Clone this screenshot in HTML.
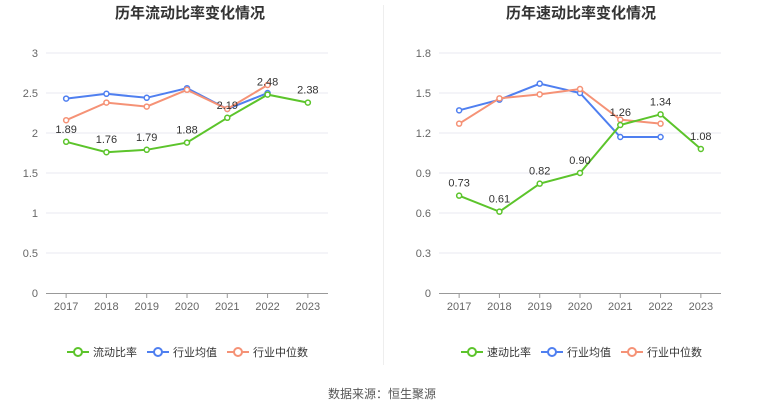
<!DOCTYPE html>
<html><head><meta charset="utf-8">
<style>
body{margin:0;background:#fff;font-family:"Liberation Sans","Noto Sans CJK SC",sans-serif;}
#wrap{position:relative;width:765px;height:413px;overflow:hidden;}
</style></head><body>
<div id="wrap">
<svg id="svg" width="765" height="413" xmlns="http://www.w3.org/2000/svg"></svg>
</div>
<script>
const years=["2017","2018","2019","2020","2021","2022","2023"];
const leftCompany=[1.89,1.76,1.79,1.88,2.19,2.48,2.38];
const leftAvg=[2.43,2.49,2.44,2.56,2.30,2.50,null];
const leftMedian=[2.16,2.38,2.33,2.54,2.30,2.60,null];
const leftTicks=[0,0.5,1,1.5,2,2.5,3];
const rightCompany=[0.73,0.61,0.82,0.90,1.26,1.34,1.08];
const rightAvg=[1.37,1.45,1.57,1.50,1.17,1.17,null];
const rightMedian=[1.27,1.46,1.49,1.53,1.30,1.27,null];
const rightTicks=[0,0.3,0.6,0.9,1.2,1.5,1.8];

const NS="http://www.w3.org/2000/svg";
const svg=document.getElementById('svg');
function mk(tag,attrs,parent){const e=document.createElementNS(NS,tag);for(const k in attrs)e.setAttribute(k,attrs[k]);(parent||svg).appendChild(e);return e;}
const GREEN="#5cc42b",BLUE="#4f7ff0",ORANGE="#f59276";

function drawChart(opt){
  const g=mk('g',{});
  
  
  const x0=opt.x0,x1=opt.x1,yTop=53,yBot=293,max=opt.ticks[opt.ticks.length-1];
  const step=(x1-x0)/years.length;
  const xs=i=>x0+step*(i+0.5);
  const ys=v=>yBot-(v/max)*(yBot-yTop);
  const t=mk('text',{x:(x0+x1)/2+opt.titleDx,y:18,'text-anchor':'middle','font-size':'15','font-weight':'bold',fill:'#333'},g);
  t.textContent=opt.title;
  
  
  opt.ticks.forEach(v=>{
    const y=ys(v);
    if(v>0){const l=mk('line',{x1:x0,x2:x1,y1:y,y2:y,stroke:'#e8e8f0','stroke-width':1},g);
    
    }
    const tx=mk('text',{x:x0-8,y:y+4,'text-anchor':'end','font-size':'11',fill:'#666'},g);
    tx.textContent=String(v);
    
    
  });
  const ax=mk('line',{x1:x0,x2:x1,y1:yBot+0.5,y2:yBot+0.5,stroke:'#999'},g);
  
  
  years.forEach((yr,i)=>{
    const tk=mk('line',{x1:xs(i),x2:xs(i),y1:yBot,y2:yBot+5,stroke:'#999'},g);
    
    
    const tx=mk('text',{x:xs(i),y:yBot+17,'text-anchor':'middle','font-size':'11',fill:'#666'},g);
    tx.textContent=yr;
    
    
  });
  function series(vals,color,name,labels){
    let d='';vals.forEach((v,i)=>{if(v==null)return;d+=(d?'L':'M')+xs(i)+' '+ys(v);});
    const p=mk('path',{d:d,fill:'none',stroke:color,'stroke-width':2},g);
    
    
    vals.forEach((v,i)=>{if(v==null)return;
      const c=mk('circle',{cx:xs(i),cy:ys(v),r:2.5,fill:'#fff',stroke:color,'stroke-width':1.5},g);
      
      
      if(labels){const tx=mk('text',{x:xs(i),y:ys(v)-9,'text-anchor':'middle','font-size':'11',fill:'#333'},g);
        tx.textContent=v.toFixed(2);
        
        }
    });
  }
  series(opt.avg,BLUE,'industry-average',false);
  series(opt.median,ORANGE,'industry-median',false);
  series(opt.company,GREEN,'company',true);
  const legend=[[opt.label,GREEN],['行业均值',BLUE],['行业中位数',ORANGE]];
  let lx=opt.legendX;
  legend.forEach(([txt,col])=>{
    const lg=mk('g',{},g);
    
    
    mk('line',{x1:lx,x2:lx+22,y1:352,y2:352,stroke:col,'stroke-width':2},lg);
    mk('circle',{cx:lx+11,cy:352,r:4,fill:'#fff',stroke:col,'stroke-width':2},lg);
    const tx=mk('text',{x:lx+26,y:356,'font-size':'11',fill:'#333'},lg);
    tx.textContent=txt;
    lx+=26+txt.length*11+10;
  });
}
drawChart({name:'current-ratio-chart',title:'历年流动比率变化情况',titleDx:3,x0:46,x1:328,ticks:leftTicks,company:leftCompany,avg:leftAvg,median:leftMedian,label:'流动比率',legendX:67});
drawChart({name:'quick-ratio-chart',title:'历年速动比率变化情况',titleDx:1,x0:439,x1:721,ticks:rightTicks,company:rightCompany,avg:rightAvg,median:rightMedian,label:'速动比率',legendX:461});
const dv=mk('line',{x1:383.5,x2:383.5,y1:5,y2:365,stroke:'#eee'});


const src=mk('text',{x:382,y:398,'text-anchor':'middle','font-size':'12',fill:'#555'});
src.textContent='数据来源：恒生聚源';


</script>
</body></html>
